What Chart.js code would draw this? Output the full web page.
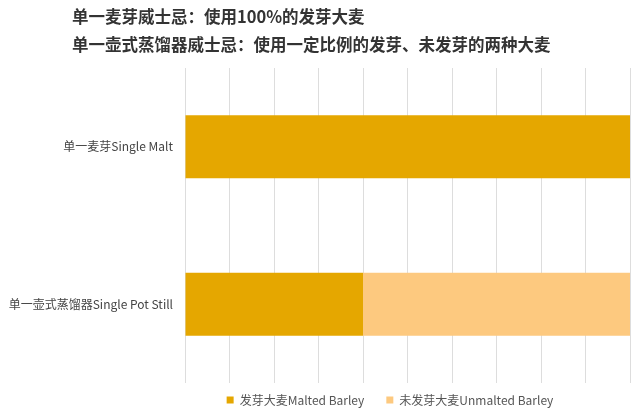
<!DOCTYPE html>
<html>
<head>
<meta charset="utf-8">
<script src="https://cdn.jsdelivr.net/npm/chart.js@4"></script>
<style>
  body { margin: 0; background: #fff; font-family: "Noto Sans CJK SC", "Noto Sans", sans-serif; }
  #wrap { position: relative; width: 640px; height: 412px; }
  .head { position: absolute; left: 72px; font-size: 16.5px; font-weight: bold; color: #333; white-space: nowrap; }
</style>
</head>
<body>
<div id="wrap">
  <div class="head" style="top:4px">单一麦芽威士忌：使用100%的发芽大麦</div>
  <div class="head" style="top:32px">单一壶式蒸馏器威士忌：使用一定比例的发芽、未发芽的两种大麦</div>
  <canvas id="c" width="640" height="412"></canvas>
</div>
<script>
const categories = ["单一麦芽Single Malt", "单一壶式蒸馏器Single Pot Still"];
const seriesNames = ["发芽大麦Malted Barley", "未发芽大麦Unmalted Barley"];
const malted = [100, 40];
const unmalted = [0, 60];

const font = "'Noto Sans CJK SC', 'Noto Sans', sans-serif";

// move the legend a little right and down, like in the picture
const legendShift = {
    id: "legendShift",
    beforeDraw(chart) {
        const lg = chart.legend;
        if (!lg || lg._shifted) return;
        lg.left += 75; lg.right += 75;
        lg.top -= 11; lg.bottom -= 11;
        lg._shifted = true;
    }
};

new Chart(document.getElementById("c"), {
    type: "bar",
    data: {
        labels: categories,
        datasets: [
            { label: seriesNames[0], data: malted, backgroundColor: "#E5A700" },
            { label: seriesNames[1], data: unmalted, backgroundColor: "#FDC97F" }
        ]
    },
    options: {
        indexAxis: "y",
        responsive: false,
        animation: false,
        barPercentage: 0.5,
        categoryPercentage: 0.8,
        layout: { padding: { top: 68, right: 10, left: 0, bottom: -15 } },
        scales: {
            x: {
                stacked: true,
                min: 0,
                max: 100,
                ticks: { stepSize: 10, display: false },
                grid: { color: "#dddddd", drawTicks: false },
                border: { display: false }
            },
            y: {
                stacked: true,
                grid: { display: false },
                border: { display: false },
                ticks: { color: "#444", font: { family: font, size: 12 }, padding: 4 },
                afterFit: (scale) => { scale.width = 185; }
            }
        },
        plugins: {
            legend: {
                position: "bottom",
                labels: {
                    boxWidth: 7,
                    boxHeight: 7,
                    color: "#555",
                    padding: 22,
                    font: { family: font, size: 12 }
                }
            },
            tooltip: { enabled: false }
        }
    },
    plugins: [legendShift]
});
</script>
</body>
</html>
